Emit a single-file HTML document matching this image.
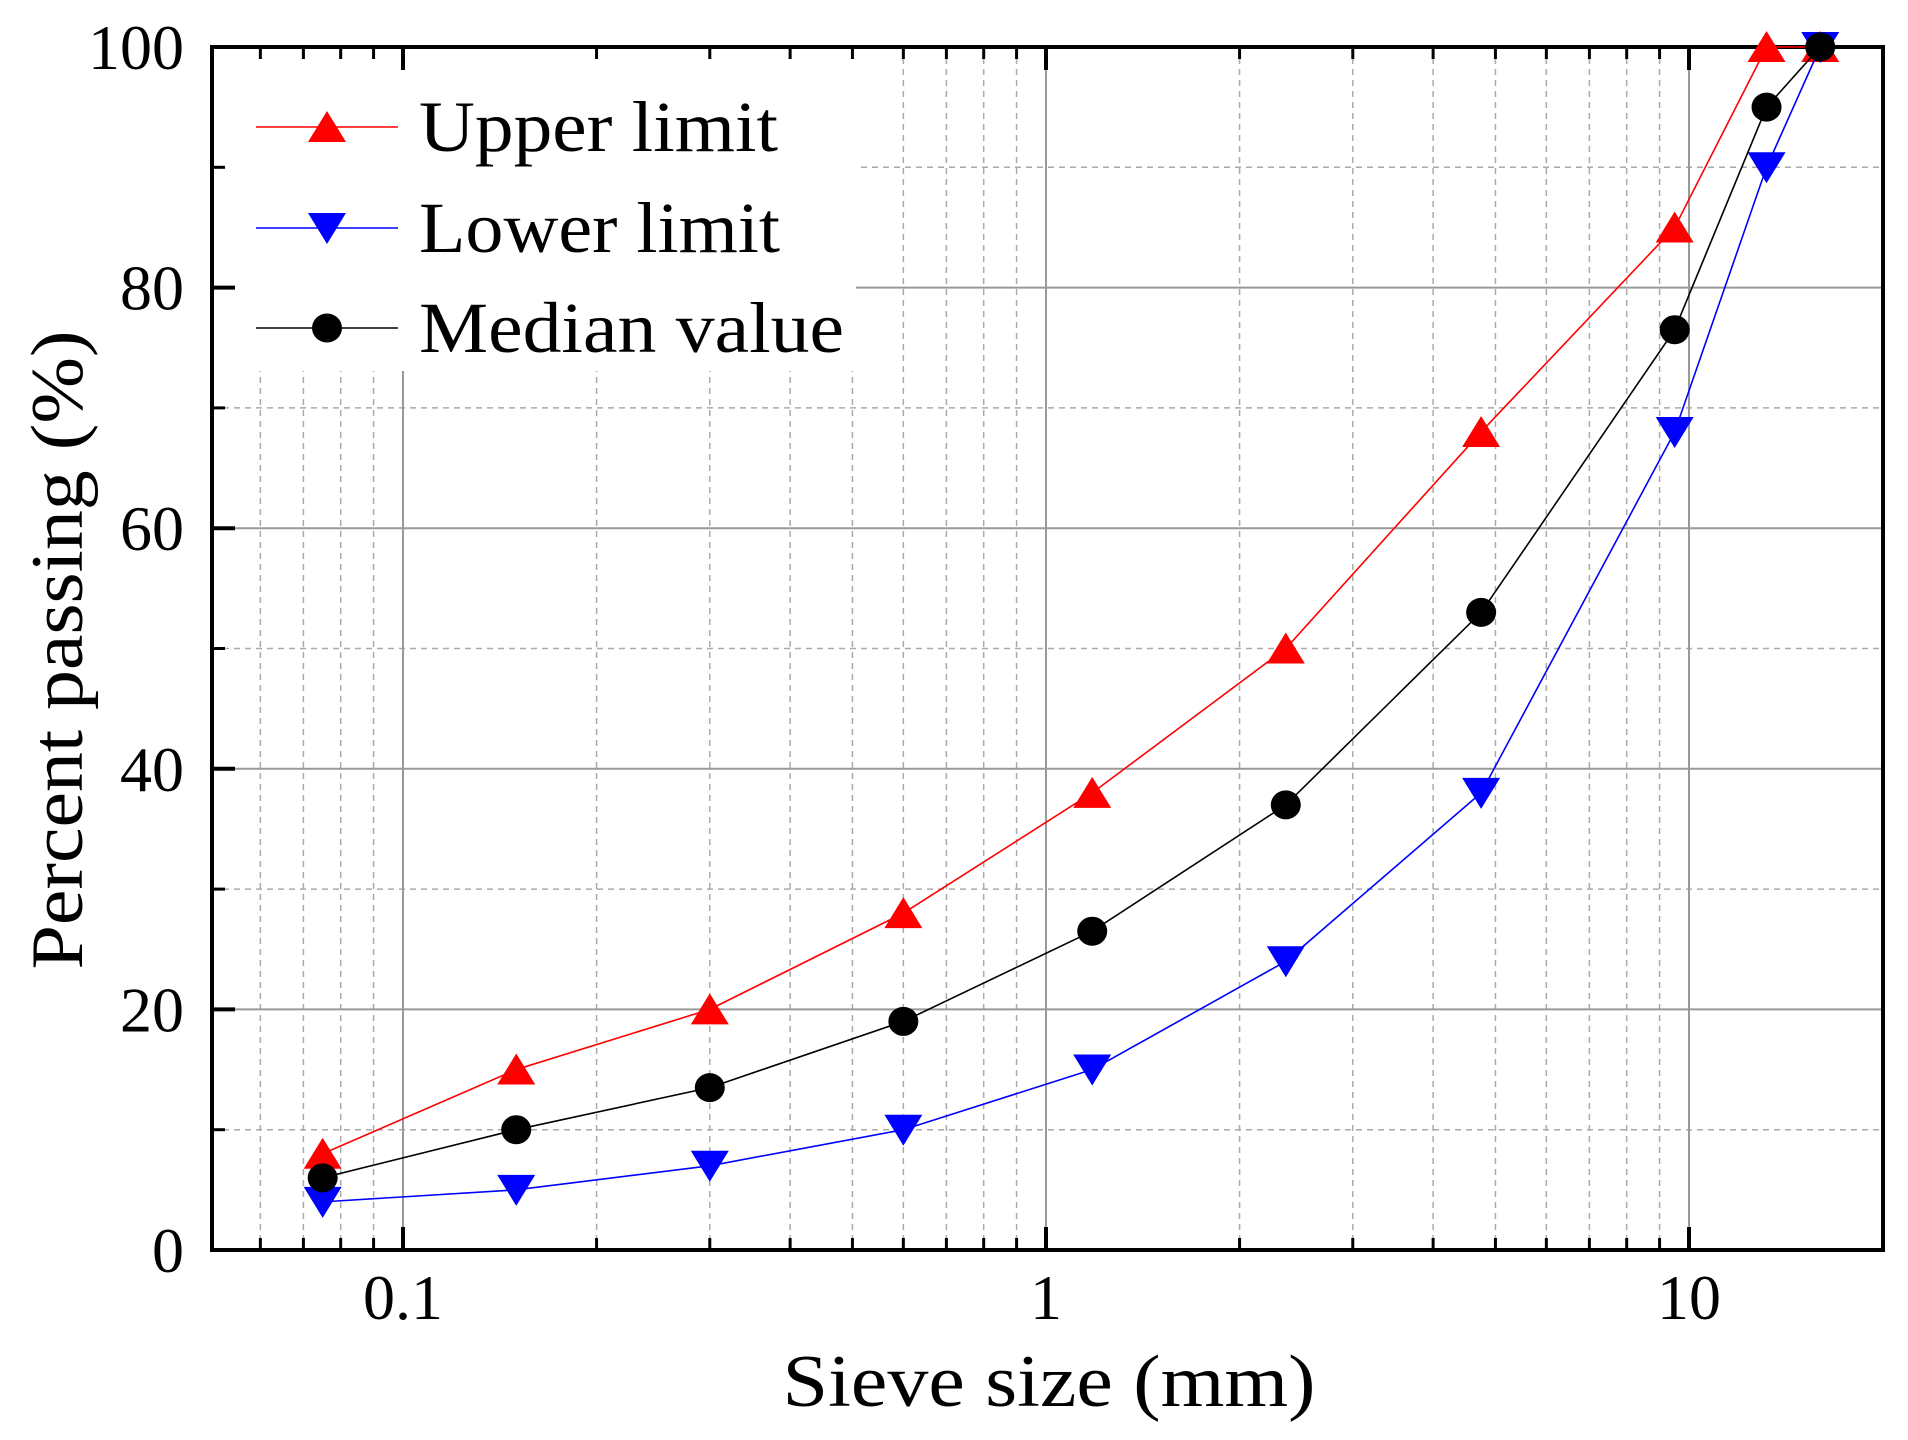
<!DOCTYPE html>
<html><head><meta charset="utf-8"><style>
html,body{margin:0;padding:0;background:#fff;}
svg{display:block;font-family:"Liberation Serif",serif;}
</style></head><body>
<svg id="c" width="1908" height="1440" viewBox="0 0 1908 1440" xmlns="http://www.w3.org/2000/svg"></svg>
<script>
const L=212,R=1883,T=47,B=1250,X1=1046,DEC=643;
const X=v=>X1+Math.log10(v)*DEC, Y=v=>B-(B-T)*v/100;
let s='';
for(let y=10;y<100;y+=20) s+=`<line x1="${L}" x2="${R}" y1="${Y(y)}" y2="${Y(y)}" stroke="#aaa" stroke-width="1.5" stroke-dasharray="6,5"/>`;
const minors=[];
for(const d of [0.01,0.1,1,10]) for(let k=2;k<=9;k++){const v=d*k;const x=X(v);if(x>L&&x<R)minors.push(x);}
minors.forEach(x=>s+=`<line x1="${x}" x2="${x}" y1="${T}" y2="${B}" stroke="#aaa" stroke-width="1.5" stroke-dasharray="6,5"/>`);
for(let y=20;y<100;y+=20) s+=`<line x1="${L}" x2="${R}" y1="${Y(y)}" y2="${Y(y)}" stroke="#999" stroke-width="2"/>`;
[0.1,1,10].forEach(v=>s+=`<line x1="${X(v)}" x2="${X(v)}" y1="${T}" y2="${B}" stroke="#999" stroke-width="2"/>`);
s+=`<rect x="${L}" y="${T}" width="644" height="324" fill="#fff"/>`;
[0.1,1,10].forEach(v=>{const x=X(v);s+=`<line x1="${x}" x2="${x}" y1="${B}" y2="${B-23}" stroke="#000" stroke-width="4"/><line x1="${x}" x2="${x}" y1="${T}" y2="${T+23}" stroke="#000" stroke-width="4"/>`;});
minors.forEach(x=>s+=`<line x1="${x}" x2="${x}" y1="${B}" y2="${B-12}" stroke="#000" stroke-width="3"/><line x1="${x}" x2="${x}" y1="${T}" y2="${T+12}" stroke="#000" stroke-width="3"/>`);
for(let y=0;y<=100;y+=10){const maj=y%20==0;const l=maj?23:13;s+=`<line x1="${L}" x2="${L+l}" y1="${Y(y)}" y2="${Y(y)}" stroke="#000" stroke-width="${maj?4:3}"/>`;}
s+=`<rect x="${L}" y="${T}" width="${R-L}" height="${B-T}" fill="none" stroke="#000" stroke-width="4"/>`;
for(let y=0;y<=100;y+=20) s+=`<text x="184" y="${Y(y)+22}" font-size="64" text-anchor="end">${y}</text>`;
[[0.1,'0.1'],[1,'1'],[10,'10']].forEach(([v,t])=>s+=`<text x="${X(v)}" y="1319" font-size="64" text-anchor="middle">${t}</text>`);
s+=`<text x="1049" y="1406" font-size="74" text-anchor="middle" textLength="533" lengthAdjust="spacingAndGlyphs">Sieve size (mm)</text>`;
s+=`<text transform="translate(82,650) rotate(-90)" font-size="74" text-anchor="middle" textLength="639" lengthAdjust="spacingAndGlyphs">Percent passing (%)</text>`;
const xs=[0.075,0.15,0.3,0.6,1.18,2.36,4.75,9.5,13.2,16];
const up=[8,15,20,28,38,50,68,85,100,100], lo=[4,5,7,10,15,24,38,68,90,100], md=[6,10,13.5,19,26.5,37,53,76.5,95,100];
const tri=(x,y,c,dn)=>dn?`<polygon points="${x-19},${y-15} ${x+19},${y-15} ${x},${y+16}" fill="${c}"/>`:`<polygon points="${x-19},${y+15} ${x+19},${y+15} ${x},${y-16}" fill="${c}"/>`;
const circ=(x,y)=>`<ellipse cx="${x}" cy="${y}" rx="15" ry="14.5" fill="#000"/>`;
function series(d,c,m){s+=`<polyline fill="none" stroke="${c}" stroke-width="1.6" points="${xs.map((v,i)=>X(v)+','+Y(d[i])).join(' ')}"/>`;xs.forEach((v,i)=>s+=m(X(v),Y(d[i])));}
series(up,'#f00',(x,y)=>tri(x,y,'#f00',false));
series(lo,'#00f',(x,y)=>tri(x,y,'#00f',true));
series(md,'#000',(x,y)=>circ(x,y));
const rows=[[127,'#f00','Upper limit',359,(x,y)=>tri(x,y,'#f00',false)],[228,'#00f','Lower limit',361,(x,y)=>tri(x,y,'#00f',true)],[328,'#000','Median value',425,(x,y)=>circ(x,y)]];
rows.forEach(([y,c,t,w,m])=>{s+=`<line x1="256" x2="398" y1="${y}" y2="${y}" stroke="${c}" stroke-width="1.6"/>`+m(327,y)+`<text x="419" y="${y+24}" font-size="72" textLength="${w}" lengthAdjust="spacingAndGlyphs">${t}</text>`;});
document.getElementById('c').innerHTML=s;
</script>
</body></html>
